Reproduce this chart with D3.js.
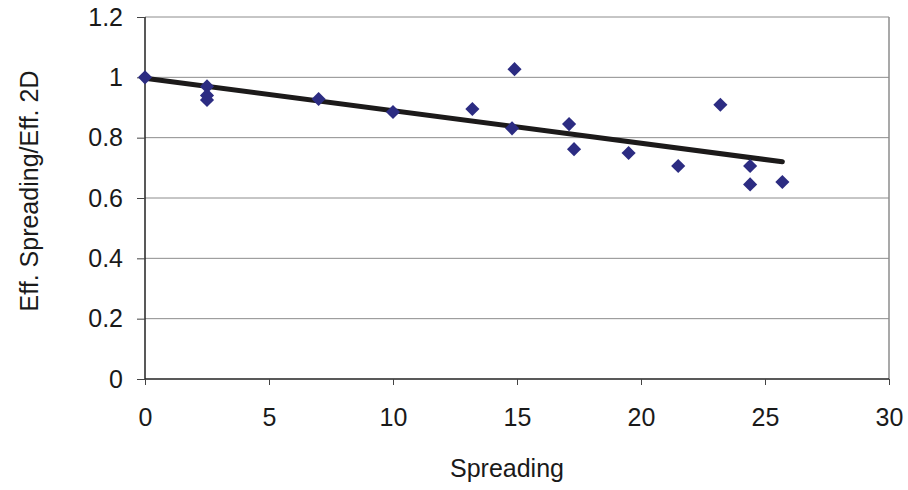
<!DOCTYPE html>
<html><head><meta charset="utf-8">
<script src="https://cdn.jsdelivr.net/npm/d3@7"></script>
<style>body{margin:0;background:#fff}svg{display:block}text{font-family:"Liberation Sans",Arial,sans-serif;fill:#1a1a1a}</style>
</head><body><svg id="c" width="908" height="490"></svg>
<script>
const spreading = [0, 2.5, 2.5, 2.5, 7.0, 10.0, 13.2, 14.8, 14.9, 17.1, 17.3, 19.5, 21.5, 23.2, 24.4, 24.4, 25.7];
const effRatio  = [1.0, 0.97, 0.94, 0.925, 0.928, 0.885, 0.895, 0.831, 1.027, 0.845, 0.762, 0.749, 0.706, 0.909, 0.706, 0.645, 0.653];
const trendX = [0, 25.7];
const trendY = [0.997, 0.72];
const xTicks = [0, 5, 10, 15, 20, 25, 30];
const yTicks = [0, 0.2, 0.4, 0.6, 0.8, 1, 1.2];
const xTitle = "Spreading";
const yTitle = "Eff. Spreading/Eff. 2D";

const svg = d3.select("#c");
const L = 145, R = 889, T = 17, B = 379;
const FS = 25;
const x = d3.scaleLinear().domain([0, 30]).range([L, R]);
const y = d3.scaleLinear().domain([0, 1.2]).range([B, T]);

// gridlines
svg.append("g").selectAll("line").data(yTicks.filter(v => v > 0)).join("line")
  .attr("x1", L).attr("x2", R).attr("y1", d => y(d)).attr("y2", d => y(d))
  .attr("stroke", "#8c8c8c").attr("stroke-width", 1);
// right border
svg.append("line").attr("x1", R).attr("x2", R).attr("y1", T).attr("y2", B)
  .attr("stroke", "#8c8c8c").attr("stroke-width", 1.5);

// axes
const xAxis = d3.axisBottom(x).tickValues(xTicks).tickSize(6).tickPadding(23).tickFormat(d3.format("d"));
const gx = svg.append("g").attr("transform", `translate(0,${B})`).call(xAxis);
gx.select(".domain").attr("stroke", "#222").attr("stroke-width", 1.5).attr("d", `M${L},0H${R}`);
gx.selectAll(".tick line").attr("stroke", "#444");
gx.selectAll(".tick text").attr("font-size", FS).attr("fill", "#1a1a1a");

const yAxis = d3.axisLeft(y).tickValues(yTicks).tickSize(8).tickPadding(14).tickFormat(d => d3.format("")(+d.toFixed(1)));
const gy = svg.append("g").attr("transform", `translate(${L},0)`).call(yAxis);
gy.select(".domain").attr("stroke", "#222").attr("stroke-width", 1.5).attr("d", `M0,${T}V${B}`);
gy.selectAll(".tick line").attr("stroke", "#444");
gy.selectAll(".tick text").attr("font-size", FS).attr("fill", "#1a1a1a");

// trend line
svg.append("line")
  .attr("x1", x(trendX[0])).attr("y1", y(trendY[0]))
  .attr("x2", x(trendX[1])).attr("y2", y(trendY[1]))
  .attr("stroke", "#1c1a1a").attr("stroke-width", 5).attr("stroke-linecap", "round");

// diamonds
const diamond = d3.symbol().type(d3.symbolSquare).size(100);
svg.append("g").selectAll("path").data(spreading.map((s, i) => [s, effRatio[i]])).join("path")
  .attr("d", diamond)
  .attr("transform", d => `translate(${x(d[0])},${y(d[1])}) rotate(45)`)
  .attr("fill", "#2c2c82");

// titles
svg.append("text").attr("x", 507).attr("y", 477).attr("text-anchor", "middle")
  .attr("font-size", FS).text(xTitle);
svg.append("text").attr("transform", `translate(38,191) rotate(-90)`)
  .attr("text-anchor", "middle").attr("font-size", FS).text(yTitle);
</script></body></html>
